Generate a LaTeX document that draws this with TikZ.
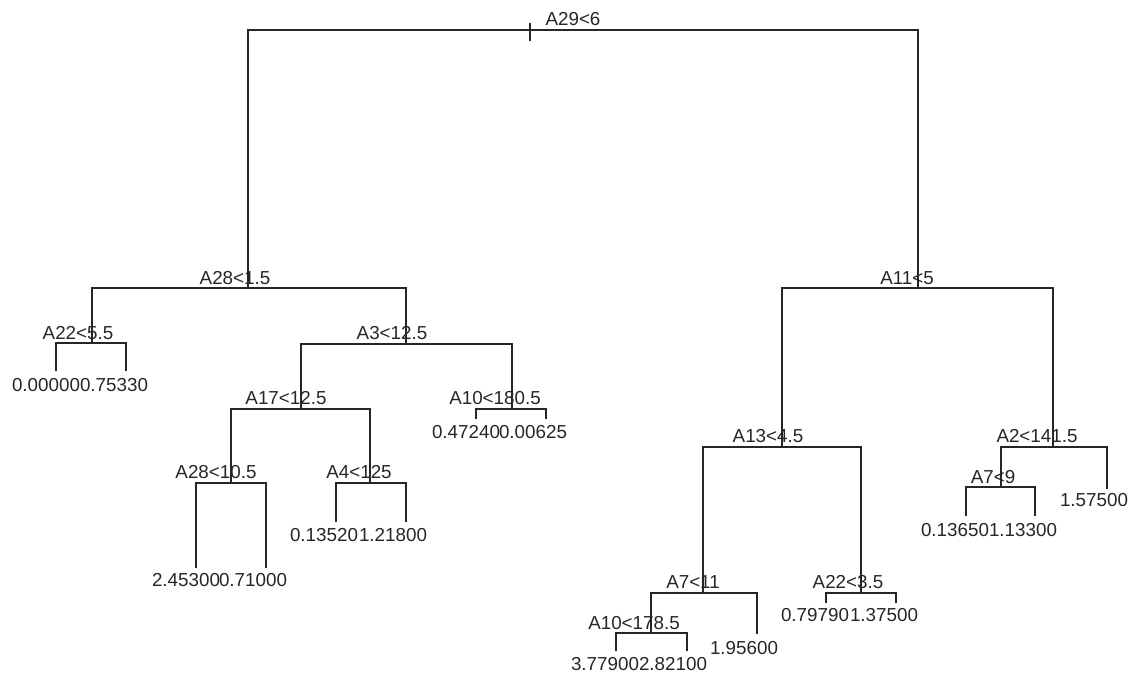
\documentclass[tikz,border=0pt]{standalone}
\usepackage{fontspec}
\setmainfont{Liberation Sans}

\begin{document}
\begin{tikzpicture}[
  x=0.75pt, y=-0.75pt,
  font=\fontsize{14.1}{16}\selectfont,
  br/.style={line width=0.8pt, black!85, line cap=rect},
  sp/.style={inner sep=0pt, text=black!85},
  lv/.style={inner sep=0pt, text=black!85},
]
  \useasboundingbox (0,0) rectangle (1139,679);

  %% Split points (pixel grid, y grows downwards)
  \coordinate (root) at (530,30);
  \coordinate (a28)  at (248,288);
  \coordinate (a11)  at (918,288);
  \coordinate (a22)  at (92,343);
  \coordinate (a3)   at (406,344);
  \coordinate (a17)  at (301,409);
  \coordinate (a10)  at (512,409);
  \coordinate (a28b) at (231,483);
  \coordinate (a4)   at (370,483);
  \coordinate (a13)  at (782,447);
  \coordinate (a2)   at (1053,447);
  \coordinate (a7)   at (703,593);
  \coordinate (a22b) at (861,593);
  \coordinate (a10b) at (651,633);
  \coordinate (a7b)  at (1001,487);

  %% Leaf ends
  \coordinate (l1)  at (56,370);   \coordinate (l2)  at (126,370);
  \coordinate (l3)  at (476,418);  \coordinate (l4)  at (546,418);
  \coordinate (l5)  at (196,567);  \coordinate (l6)  at (266,567);
  \coordinate (l7)  at (336,521);  \coordinate (l8)  at (406,521);
  \coordinate (l9)  at (616,650);  \coordinate (l10) at (687,650);
  \coordinate (l11) at (757,633);
  \coordinate (l12) at (826,602);  \coordinate (l13) at (896,602);
  \coordinate (l14) at (966,515);  \coordinate (l15) at (1035,515);
  \coordinate (l16) at (1107,488);

  %% Branches
  \draw[br] (root) -| (a28);  \draw[br] (root) -| (a11);
  \draw[br] (a28) -| (a22);   \draw[br] (a28) -| (a3);
  \draw[br] (a22) -| (l1);    \draw[br] (a22) -| (l2);
  \draw[br] (a3) -| (a17);    \draw[br] (a3) -| (a10);
  \draw[br] (a10) -| (l3);    \draw[br] (a10) -| (l4);
  \draw[br] (a17) -| (a28b);  \draw[br] (a17) -| (a4);
  \draw[br] (a28b) -| (l5);   \draw[br] (a28b) -| (l6);
  \draw[br] (a4) -| (l7);     \draw[br] (a4) -| (l8);
  \draw[br] (a11) -| (a13);   \draw[br] (a11) -| (a2);
  \draw[br] (a13) -| (a7);    \draw[br] (a13) -| (a22b);
  \draw[br] (a7) -| (a10b);   \draw[br] (a7) -| (l11);
  \draw[br] (a10b) -| (l9);   \draw[br] (a10b) -| (l10);
  \draw[br] (a22b) -| (l12);  \draw[br] (a22b) -| (l13);
  \draw[br] (a2) -| (a7b);    \draw[br] (a2) -| (l16);
  \draw[br] (a7b) -| (l14);   \draw[br] (a7b) -| (l15);

  %% Root tick
  \draw[br] (root) ++(0,-6) -- ++(0,16);

  %% Split labels
  \node[sp] (t-root) at (573,19)  {A29<6};
  \node[sp] (t-a28)  at (235,278) {A28<1.5};
  \node[sp] (t-a11)  at (907,278) {A11<5};
  \node[sp] (t-a22)  at (78,333)  {A22<5.5};
  \node[sp] (t-a3)   at (392,333) {A3<12.5};
  \node[sp] (t-a17)  at (286,398) {A17<12.5};
  \node[sp] (t-a10)  at (495,398) {A10<180.5};
  \node[sp] (t-a28b) at (216,472) {A28<10.5};
  \node[sp] (t-a4)   at (359,472) {A4<125};
  \node[sp] (t-a13)  at (768,436) {A13<4.5};
  \node[sp] (t-a2)   at (1037,436) {A2<141.5};
  \node[sp] (t-a7)   at (693,582) {A7<11};
  \node[sp] (t-a22b) at (848,582) {A22<3.5};
  \node[sp] (t-a10b) at (634,623) {A10<178.5};
  \node[sp] (t-a7b)  at (993,477) {A7<9};

  %% Leaf values
  \node[lv] (v1)  at (46,385)   {0.00000};
  \node[lv] (v2)  at (114,385)  {0.75330};
  \node[lv] (v3)  at (466,432)  {0.47240};
  \node[lv] (v4)  at (533,432)  {0.00625};
  \node[lv] (v5)  at (186,580)  {2.45300};
  \node[lv] (v6)  at (253,580)  {0.71000};
  \node[lv] (v7)  at (324,535)  {0.13520};
  \node[lv] (v8)  at (393,535)  {1.21800};
  \node[lv] (v9)  at (605,664)  {3.77900};
  \node[lv] (v10) at (673,664)  {2.82100};
  \node[lv] (v11) at (744,648)  {1.95600};
  \node[lv] (v12) at (815,615)  {0.79790};
  \node[lv] (v13) at (884,615)  {1.37500};
  \node[lv] (v14) at (955,530)  {0.13650};
  \node[lv] (v15) at (1023,530) {1.13300};
  \node[lv] (v16) at (1094,500) {1.57500};
\end{tikzpicture}
\end{document}
